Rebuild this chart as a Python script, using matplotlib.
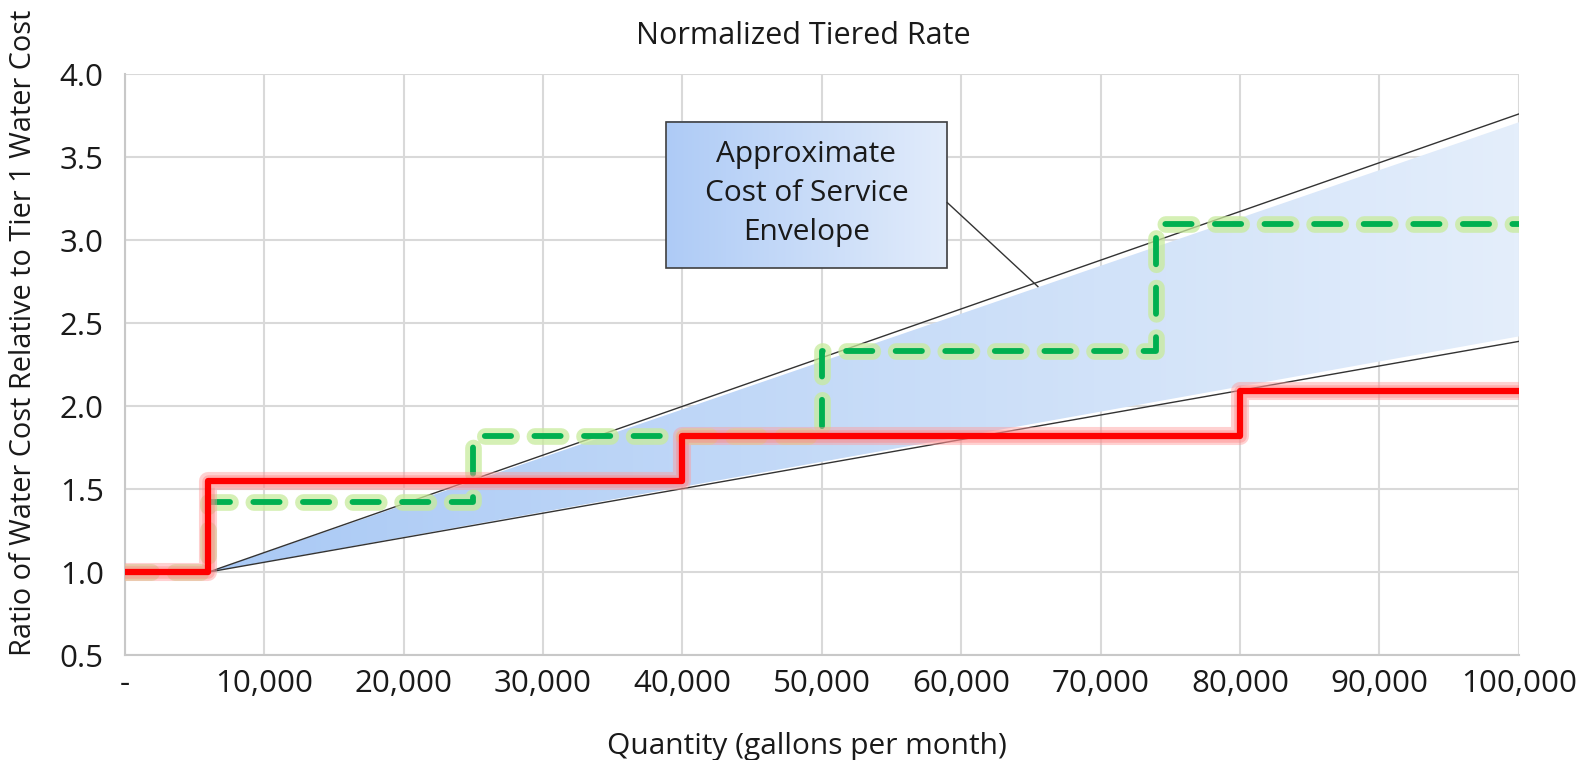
import numpy as np
import matplotlib.pyplot as plt
import matplotlib.patheffects as pe
from matplotlib.patches import Polygon, Rectangle
from matplotlib.colors import LinearSegmentedColormap
from matplotlib.ticker import FuncFormatter

plt.rcParams['font.family'] = ['Open Sans', 'DejaVu Sans']

# tiered rate steps (gallons, ratio)
red_x = [0, 6000, 40000, 80000, 100000]
red_y = [1.0, 1.55, 1.82, 2.09, 2.09]
green_x = [0, 6000, 25000, 50000, 74000, 100000]
green_y = [1.0, 1.42, 1.82, 2.33, 3.10, 3.10]

# cost of service envelope
env_x = [6000, 100000]
env_upper = [1.0, 3.76]
env_lower = [1.0, 2.39]
fill_upper = [1.0, 3.71]
fill_lower = [1.0, 2.42]

fig = plt.figure(figsize=(15.88, 7.6), dpi=100)
ax = fig.add_axes([0.0785, 0.138, 0.878, 0.7645])

ax.set_xlim(0, 100000)
ax.set_ylim(0.5, 4.0)
ax.set_xticks(np.arange(0, 100001, 10000))
ax.set_yticks(np.arange(0.5, 4.01, 0.5))
ax.xaxis.set_major_formatter(FuncFormatter(lambda v, p: '-' if v == 0 else f'{v:,.0f}'))
ax.yaxis.set_major_formatter(FuncFormatter(lambda v, p: f'{v:.1f}'))
ax.tick_params(length=0, labelsize=22.5, colors='#1a1a1a')
ax.tick_params(axis='x', pad=10)
ax.tick_params(axis='y', pad=15)
ax.grid(True, color='#d9d9d9', linewidth=1.5)
ax.set_axisbelow(True)
for s in ['top', 'right']:
    ax.spines[s].set_visible(False)
for s in ['left', 'bottom']:
    ax.spines[s].set_color('#c8c8c8')
    ax.spines[s].set_linewidth(1.5)

# gradient envelope fill
poly = Polygon([(env_x[0], fill_lower[0]), (env_x[1], fill_lower[1]),
                (env_x[1], fill_upper[1]), (env_x[0], fill_upper[0])],
               closed=True, facecolor='none', edgecolor='none')
ax.add_patch(poly)
cmap = LinearSegmentedColormap.from_list('env', ['#a9c9f5', '#e4eefb'])
grad = np.linspace(0, 1, 256).reshape(1, -1)
im = ax.imshow(grad, cmap=cmap, aspect='auto', extent=[env_x[0], env_x[1], 0.5, 4.0],
               zorder=1.5)
im.set_clip_path(poly)
ax.plot(env_x, env_upper, color='#333333', linewidth=1.0, zorder=2)
ax.plot(env_x, env_lower, color='#333333', linewidth=1.0, zorder=2)

# green dashed tier line with glow
ax.step(green_x, green_y, where='post', color='#00b050', linewidth=4.2,
        linestyle=(0, (4.5, 4.0)), dash_capstyle='round', zorder=3,
        path_effects=[pe.Stroke(linewidth=12, foreground='#c8eb9c', alpha=0.75),
                      pe.Normal()])
# red tier line with glow
ax.step(red_x, red_y, where='post', color='#ff0000', linewidth=4.5, zorder=4,
        path_effects=[pe.Stroke(linewidth=13, foreground='#ff9a9a', alpha=0.45),
                      pe.Stroke(linewidth=9, foreground='#ff8080', alpha=0.4),
                      pe.Normal()])

# annotation box
bx0, bx1, by0, by1 = 38800, 59000, 2.83, 3.71
box = Rectangle((bx0, by0), bx1 - bx0, by1 - by0, facecolor='none',
                edgecolor='#404040', linewidth=1.2, zorder=6)
ax.add_patch(box)
ax.imshow(grad, cmap=LinearSegmentedColormap.from_list('box', ['#aecbf6', '#e2ecfb']),
          aspect='auto', extent=[bx0, bx1, by0, by1], zorder=5)
ax.text((bx0 + bx1) / 2, (by0 + by1) / 2 + 0.01, 'Approximate\nCost of Service\nEnvelope',
        ha='center', va='center', fontsize=21.5, color='#1a1a1a', linespacing=1.45, zorder=7)
ax.plot([bx1, 65500], [3.226, 2.72], color='#333333', linewidth=1.0, zorder=6)
ax.set_xlim(0, 100000)
ax.set_ylim(0.5, 4.0)

ax.set_title('Normalized Tiered Rate', fontsize=22, color='#1a1a1a', pad=22, x=0.487)
ax.set_xlabel('Quantity (gallons per month)', fontsize=21.5, color='#1a1a1a')
ax.xaxis.set_label_coords(0.489, -0.132)
ax.set_ylabel('Ratio of Water Cost Relative to Tier 1 Water Cost', fontsize=20.8,
              color='#1a1a1a')
ax.yaxis.set_label_coords(-0.062, 0.555)

fig.savefig('out.png', dpi=100)
